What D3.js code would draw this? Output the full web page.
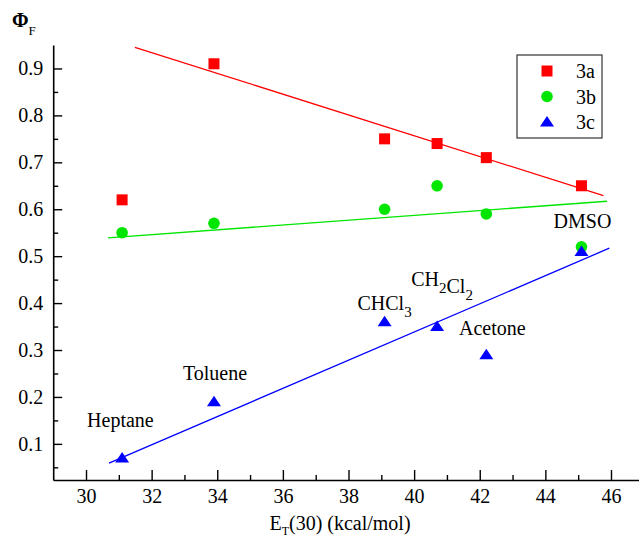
<!DOCTYPE html>
<html>
<head>
<meta charset="utf-8">
<script src="https://cdn.jsdelivr.net/npm/d3@7"></script>
<style>
  body { margin: 0; background: #fff; }
  svg text { font-family: "Liberation Serif", "Times New Roman", serif !important; fill: #000; }
</style>
</head>
<body>
<svg id="chart"></svg>
<script>
// solvent polarity E_T(30) for each solvent
const solvents = ["Heptane", "Toluene", "CHCl3", "CH2Cl2", "Acetone", "DMSO"];
const et30 = [31.1, 33.9, 39.1, 40.7, 42.2, 45.1];

// fluorescence quantum yields
const phi3a = [0.62, 0.91, 0.75, 0.74, 0.71, 0.65];
const phi3b = [0.55, 0.57, 0.60, 0.65, 0.59, 0.52];
const phi3c = [0.07, 0.19, 0.36, 0.35, 0.29, 0.51];

// linear fit lines, [x, y] end points
const fit3a = [[31.49, 0.945], [45.77, 0.629]];
const fit3b = [[30.67, 0.539], [45.88, 0.617]];
const fit3c = [[30.70, 0.059], [45.95, 0.517]];

const xTicks = [30, 32, 34, 36, 38, 40, 42, 44, 46];
const yTicks = [0.1, 0.2, 0.3, 0.4, 0.5, 0.6, 0.7, 0.8, 0.9];

const width = 639, height = 540;
const serif = "'Liberation Serif', 'Times New Roman', serif";
const svg = d3.select("#chart").attr("width", width).attr("height", height);

const xScale = d3.scaleLinear().domain([29, 47]).range([53.2, 643.8]);
const yScale = d3.scaleLinear().domain([0.023, 0.95]).range([480, 45]);

// minor ticks first
svg.append("g")
  .attr("transform", "translate(0,480)")
  .call(d3.axisBottom(xScale).tickValues(d3.range(31, 47, 2)).tickSize(-5).tickSizeOuter(0).tickFormat(""))
  .call(g => g.select(".domain").remove());
svg.append("g")
  .attr("transform", "translate(53.2,0)")
  .call(d3.axisLeft(yScale).tickValues(d3.range(0.05, 0.9, 0.1)).tickSize(-5).tickSizeOuter(0).tickFormat(""))
  .call(g => g.select(".domain").remove());

// main axes
const xAxis = svg.append("g")
  .attr("transform", "translate(0,480)")
  .call(d3.axisBottom(xScale).tickValues(xTicks).tickSize(-10).tickSizeOuter(0).tickPadding(9));
const yAxis = svg.append("g")
  .attr("transform", "translate(53.2,0)")
  .call(d3.axisLeft(yScale).tickValues(yTicks).tickSize(-9).tickSizeOuter(0).tickPadding(10).tickFormat(d3.format(".1f")));

[xAxis, yAxis].forEach(g => {
  g.attr("font-family", serif).attr("font-size", 20);
  g.selectAll(".tick text").style("font-family", serif).style("font-size", "20px");
  g.select(".domain").attr("stroke-width", 1.6);
});
svg.selectAll(".tick line").attr("stroke-width", 1.4);

// fit lines
const line = d3.line().x(d => xScale(d[0])).y(d => yScale(d[1]));
svg.append("path").datum(fit3a).attr("d", line).attr("stroke", "#ff0000").attr("stroke-width", 1.3).attr("fill", "none");
svg.append("path").datum(fit3b).attr("d", line).attr("stroke", "#00e600").attr("stroke-width", 1.3).attr("fill", "none");
svg.append("path").datum(fit3c).attr("d", line).attr("stroke", "#0000ff").attr("stroke-width", 1.3).attr("fill", "none");

const tri = "M0,-6L7,4.5L-7,4.5Z";

// data points
svg.append("g").selectAll("rect").data(phi3a).join("rect")
  .attr("x", (d, i) => xScale(et30[i]) - 5.5)
  .attr("y", d => yScale(d) - 5.5)
  .attr("width", 11).attr("height", 11)
  .attr("fill", "#ff0000");
svg.append("g").selectAll("circle").data(phi3b).join("circle")
  .attr("cx", (d, i) => xScale(et30[i]))
  .attr("cy", d => yScale(d))
  .attr("r", 5.8)
  .attr("fill", "#00e600");
svg.append("g").selectAll("path").data(phi3c).join("path")
  .attr("d", tri)
  .attr("transform", (d, i) => `translate(${xScale(et30[i])},${yScale(d)})`)
  .attr("fill", "#0000ff");

// solvent labels near the 3c points
const labelOffsets = [[-35, -31, "start"], [1, -22, "middle"], [0, -12, "middle"], [5, -41, "middle"], [6, -20, "middle"], [1, -23, "middle"]];
solvents.forEach((s, i) => {
  const [dx, dy, anchor] = labelOffsets[i];
  const t = svg.append("text")
    .attr("x", xScale(et30[i]) + dx)
    .attr("y", yScale(phi3c[i]) + dy)
    .attr("font-size", 20)
    .attr("text-anchor", anchor);
  const parts = s.match(/[A-Za-z]+|\d/g);
  parts.forEach(p => {
    if (/\d/.test(p)) {
      t.append("tspan").attr("font-size", 15).attr("dy", 7).text(p);
      t.append("tspan").attr("dy", -7).text("");
    } else {
      t.append("tspan").text(p);
    }
  });
});

// axis titles
const yTitle = svg.append("text").attr("x", 12).attr("y", 27).attr("font-size", 20).attr("font-weight", "bold");
yTitle.append("tspan").text("Φ");
yTitle.append("tspan").attr("font-size", 13).attr("font-weight", "normal").attr("dy", 8).text("F");

const xTitle = svg.append("text").attr("x", 340).attr("y", 530).attr("font-size", 20).attr("text-anchor", "middle");
xTitle.append("tspan").text("E");
xTitle.append("tspan").attr("font-size", 12).attr("dy", 5).text("T");
xTitle.append("tspan").attr("dy", -5).text("(30) (kcal/mol)");

// legend
const legend = svg.append("g").attr("transform", "translate(517,55)");
legend.append("rect").attr("width", 85).attr("height", 83)
  .attr("fill", "none").attr("stroke", "#333").attr("stroke-width", 1.2);
const legendItems = ["3a", "3b", "3c"];
legendItems.forEach((name, i) => {
  const cy = 16 + i * 25.5;
  const cx = 30;
  if (i === 0) {
    legend.append("rect").attr("x", cx - 5.5).attr("y", cy - 5.5).attr("width", 11).attr("height", 11).attr("fill", "#ff0000");
  } else if (i === 1) {
    legend.append("circle").attr("cx", cx).attr("cy", cy).attr("r", 5.8).attr("fill", "#00e600");
  } else {
    legend.append("path").attr("d", tri).attr("transform", `translate(${cx},${cy})`).attr("fill", "#0000ff");
  }
  legend.append("text").attr("x", 59).attr("y", cy + 7).attr("font-size", 20).text(name);
});
</script>
</body>
</html>
